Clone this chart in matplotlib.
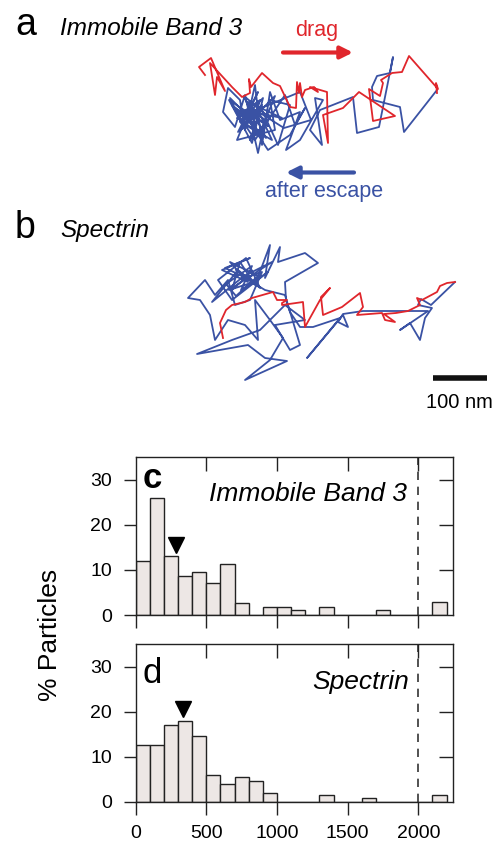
import numpy as np
import matplotlib
matplotlib.use("Agg")
import matplotlib.pyplot as plt

plt.rcParams['font.family'] = ['Liberation Sans', 'DejaVu Sans']

RED = '#e0262c'
BLUE = '#3a52a4'
BAR = '#ede7e5'

# ---- trajectories (source pixel units, 1 px ~ 1.83 nm) ----
a_drag_x = [205, 199, 211, 225, 217, 215, 210, 232, 242, 250, 249, 251, 262, 273, 280, 290, 296, 297,
            299, 300, 302, 305, 314, 318, 310, 327, 328, 323, 343, 359, 395, 373, 369, 380, 383, 381,
            392, 402, 409, 438, 436, 437]
a_drag_y = [75, 67, 58, 91, 77, 95, 63, 87, 97, 93, 79, 87, 73, 83, 86, 107, 108, 82,
            93, 83, 97, 90, 87, 92, 87, 92, 143, 115, 108, 92, 116, 121, 89, 96, 83, 80,
            73, 72, 56, 89, 83, 93]

a_esc_x = [437, 404, 400, 373, 372, 377, 390, 393, 379, 357, 353, 320, 310, 322, 315, 323, 300, 286,
           300, 280, 270, 262, 255, 245, 240, 228, 223, 235, 245, 258, 265, 250, 237, 275, 270, 290,
           278, 262, 248, 232, 255, 285, 295, 305, 290, 268, 243, 260, 252, 240, 230, 247,
           258, 238, 262, 250, 270, 244, 256, 235, 266, 248, 282, 253, 241, 275, 259, 246, 268, 229,
           252, 263, 240, 272, 255, 237, 300, 311, 284, 249]
a_esc_y = [90, 132, 107, 100, 87, 76, 73, 57, 127, 133, 97, 110, 130, 145, 98, 100, 140, 150,
           112, 120, 92, 145, 85, 130, 100, 88, 112, 127, 95, 153, 120, 108, 140, 130, 100, 105,
           145, 110, 118, 105, 140, 95, 125, 108, 135, 150, 112, 100, 128, 120, 98, 115,
           92, 132, 105, 140, 118, 96, 125, 108, 138, 102, 118, 112, 130, 96, 135, 110, 126, 100,
           143, 98, 122, 140, 104, 118, 92, 120, 128, 106]

b_drag_x = [223, 220, 226, 232, 245, 252, 273, 277, 287, 282, 282, 303, 305, 320, 330, 321, 323, 342,
            360, 363, 357, 382, 385, 395, 384, 396, 408, 420, 417, 422, 437, 440, 447, 455]
b_drag_y = [338, 323, 310, 305, 302, 298, 292, 300, 300, 303, 305, 302, 327, 300, 288, 297, 315, 307,
            293, 307, 315, 313, 320, 322, 314, 313, 311, 305, 298, 300, 292, 286, 283, 282]

b_esc_x = [455, 431, 421, 418, 432, 425, 420, 410, 400, 428, 385, 363, 343, 338, 348, 343, 307, 340,
           313, 300, 290, 286, 285, 318, 305, 278, 280, 265, 270, 255, 240, 232, 245, 262, 250, 235,
           228, 215, 205, 188, 200, 210, 215, 228, 245, 258, 255, 270, 283, 270, 245, 287, 265, 248,
           197, 232, 260, 285, 305, 275, 290, 300, 285, 265, 240, 225, 250,
           222, 248, 230, 258, 236, 226, 252, 241, 268, 232, 218, 246, 260, 238, 212, 244, 272, 229,
           254, 236]
b_esc_y = [282, 305, 299, 305, 308, 318, 340, 323, 330, 311, 311, 311, 314, 322, 327, 315, 358, 318,
           327, 327, 312, 300, 282, 263, 253, 262, 247, 278, 245, 285, 262, 290, 278, 272, 300, 305,
           280, 295, 280, 298, 300, 315, 340, 320, 325, 340, 300, 320, 338, 360, 380, 361, 358, 345,
           354, 340, 330, 305, 320, 325, 350, 345, 295, 290, 275, 268, 258,
           270, 282, 262, 276, 296, 284, 266, 290, 272, 300, 280, 258, 288, 270, 302, 276, 262, 290,
           282, 270]

SCALE_NM = 100
NM_PER_PX = 1.835

# ---- histograms: % particles per 100 nm bin ----
bin_edges = np.arange(0, 2300, 100)
c_pct = [12, 26, 13, 8.6, 9.6, 7.0, 11.3, 2.7, 0, 1.8, 1.8, 1.1, 0, 1.8, 0, 0, 0, 1.0, 0, 0, 0, 2.8]
d_pct = [12.5, 12.5, 17.1, 18.0, 14.5, 6.0, 4.0, 5.5, 4.7, 2.0, 0, 0, 0, 1.4, 0, 0, 0.9, 0, 0, 0, 0, 1.4]
c_median = (285, 15.4)
d_median = (337, 20.5)
x_ticks = [0, 500, 1000, 1500, 2000]
y_ticks = [0, 10, 20, 30]
cutoff = 2000

fig = plt.figure(figsize=(4.93, 8.44), dpi=100)

# top section drawn in source pixel space
top = fig.add_axes([0, 1 - 440 / 844, 1, 440 / 844])
top.set_xlim(0, 493)
top.set_ylim(440, 0)
top.axis('off')

top.plot(a_esc_x, a_esc_y, color=BLUE, lw=1.3)
top.plot(a_drag_x, a_drag_y, color=RED, lw=1.3)
top.plot(b_esc_x, b_esc_y, color=BLUE, lw=1.3)
top.plot(b_drag_x, b_drag_y, color=RED, lw=1.3)

top.annotate('', xy=(353, 52.5), xytext=(283, 52.5),
             arrowprops=dict(arrowstyle='-|>', color=RED, lw=3, mutation_scale=18, shrinkA=0, shrinkB=0))
top.annotate('', xy=(286, 172.5), xytext=(354, 172.5),
             arrowprops=dict(arrowstyle='-|>', color=BLUE, lw=3, mutation_scale=18, shrinkA=0, shrinkB=0))
top.text(317, 36, 'drag', color=RED, fontsize=15.5, ha='center', va='baseline')
top.text(324, 197, 'after escape', color=BLUE, fontsize=15.5, ha='center', va='baseline')

top.text(15, 35, 'a', fontsize=27, va='baseline')
top.text(60, 35, 'Immobile Band 3', fontsize=17.5, style='italic', va='baseline')
top.text(15, 238, 'b', fontsize=27, va='baseline')
top.text(60, 237, 'Spectrin', fontsize=17.5, style='italic', va='baseline')

bar_px = SCALE_NM / NM_PER_PX
top.plot([487 - bar_px, 487], [377.5, 377.5], color='#111111', lw=4, solid_capstyle='butt')
top.text(459, 408, '100 nm', fontsize=14.5, ha='center', va='baseline')


def hist_panel(rect, pct, med, letter, letter_bold, name, name_xy, letter_y, show_xlabels):
    ax = fig.add_axes(rect)
    ax.bar(bin_edges[:-1], pct, width=100, align='edge', color=BAR, edgecolor='#222222', lw=1.0)
    ax.axvline(cutoff, color='#333333', lw=1.2, ls=(0, (5, 4)))
    ax.plot(med[0], med[1], marker='v', ms=11, color='black', ls='none')
    ax.set_xlim(0, 2243)
    ax.set_ylim(0, 35)
    ax.set_xticks(x_ticks)
    ax.set_yticks(y_ticks)
    ax.tick_params(direction='out', length=9, width=1, labelsize=14, color='#222222')
    ax.tick_params(axis='x', pad=8)
    ax.tick_params(axis='y', pad=8)
    if not show_xlabels:
        ax.set_xticklabels([])
    for s in ax.spines.values():
        s.set_linewidth(1.0)
        s.set_color('#222222')
    # inward ticks on the top and right
    tw = ax.twinx()
    tw.set_ylim(ax.get_ylim())
    tw.set_yticks(y_ticks[1:])
    tw.tick_params(direction='in', length=10, width=1, labelright=False, color='#222222')
    ty = ax.twiny()
    ty.set_xlim(ax.get_xlim())
    ty.set_xticks(x_ticks[1:])
    ty.tick_params(direction='in', length=10, width=1, labeltop=False, color='#222222')
    for t in (tw, ty):
        for s in t.spines.values():
            s.set_visible(False)
    ax.text(0.023, letter_y, letter, transform=ax.transAxes, fontsize=25,
            fontweight='bold' if letter_bold else 'normal', va='baseline')
    ax.text(name_xy[0], name_xy[1], name, transform=ax.transAxes, fontsize=19,
            style='italic', va='baseline')
    return ax


hist_panel([135.7 / 493, 1 - 615 / 844, 317 / 493, 158 / 844], c_pct, c_median,
           'c', True, 'Immobile Band 3', (0.232, 0.723), 0.804, False)
hist_panel([135.7 / 493, 1 - 801.7 / 844, 317 / 493, 157.7 / 844], d_pct, d_median,
           'd', False, 'Spectrin', (0.557, 0.713), 0.753, True)

fig.text(50 / 493, 1 - 635 / 844, '% Particles', rotation=90, fontsize=19,
         ha='center', va='center')

fig.savefig('out.png', dpi=100)
